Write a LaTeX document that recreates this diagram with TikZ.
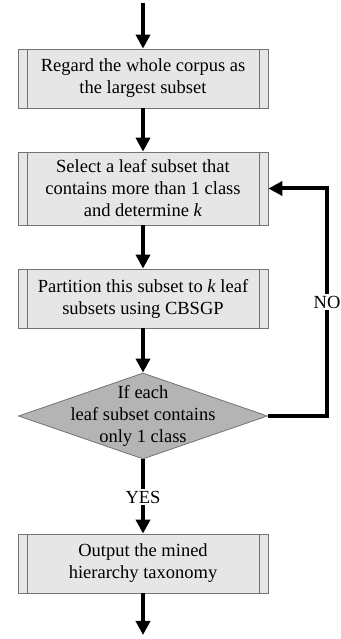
\documentclass[tikz,border=0pt]{standalone}
\usepackage{fontspec}
\setmainfont{Liberation Serif}
\usetikzlibrary{arrows.meta,shapes.geometric}
\definecolor{boxgray}{RGB}{230,230,230}
\definecolor{decgray}{RGB}{180,180,180}
\definecolor{edgegray}{RGB}{115,115,115}

\begin{document}
\begin{tikzpicture}[x=1pt, y=1pt,
		every node/.style={font=\fontsize{18.5}{22}\selectfont},
		process/.style={draw=edgegray, line width=0.8pt, fill=boxgray, minimum width=250pt, minimum height=59pt, inner sep=0pt, align=center,
			path picture={\draw[edgegray, line width=0.8pt]
				([xshift=9pt]path picture bounding box.north west) -- ([xshift=9pt]path picture bounding box.south west)
				([xshift=-9pt]path picture bounding box.north east) -- ([xshift=-9pt]path picture bounding box.south east);}},
		decision/.style={draw=edgegray, line width=0.8pt, fill=decgray, shape=diamond, minimum width=249pt, minimum height=86pt, inner sep=0pt},
		flow/.style={line width=4pt},
		arrow/.style={flow, -{Triangle[length=14pt, width=14pt]}},
		lbl/.style={fill=white, inner sep=2pt}]
			\useasboundingbox (0,0) rectangle (340,639);
			\coordinate (start) at (143,636);
			\coordinate (stop) at (143,4);
			\node[process] (regard) at (143,560.5) {Regard the whole corpus as\\the largest subset};
			\node[process, minimum height=73pt] (select) at (143,450.5) {Select a leaf subset that\\contains more than 1 class\\and determine \textit{k}};
			\node[process] (part) at (143,340.5) {Partition this subset to \textit{k} leaf\\subsets using CBSGP};
			\node[decision] (check) at (143,223) {};
			\node[align=center, inner sep=0pt] (checktext) at (check) {If each\\leaf subset contains\\only 1 class};
			\node[lbl] (yes) at (143,142) {YES};
			\node[process] (output) at (143,75.5) {Output the mined\\hierarchy taxonomy};
			\coordinate (bend) at (327,450.5);
			\draw[arrow] (start) -- (regard);
			\draw[arrow] (regard) -- (select);
			\draw[arrow] (select) -- (part);
			\draw[arrow] (part) -- (check);
			\draw[flow] (check) -- (yes);
			\draw[arrow] (yes) -- (output);
			\draw[arrow] (output) -- (stop);
			\draw[arrow] (check.east) -| (bend) -- (select.east);
			\node[lbl] (no) at (327,337) {NO};
		\end{tikzpicture}
\end{document}
